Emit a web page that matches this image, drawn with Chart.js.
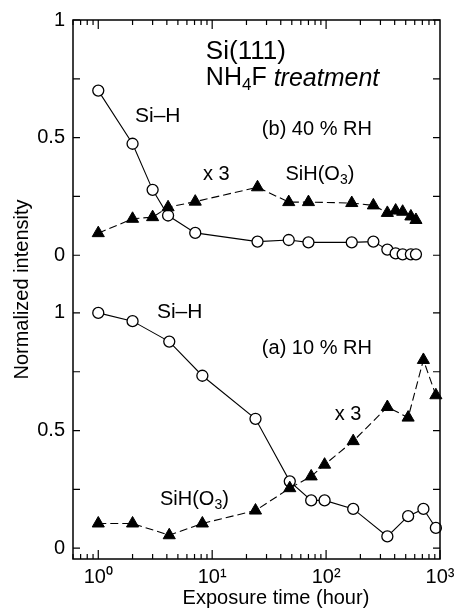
<!DOCTYPE html>
<html>
<head>
<meta charset="utf-8">
<script src="https://cdn.jsdelivr.net/npm/chart.js@4.4.0/dist/chart.umd.min.js"></script>
<style>
  html, body { margin: 0; padding: 0; background: #fff; }
  #wrap { width: 461px; height: 610px; }
</style>
</head>
<body>
<div id="wrap"><canvas id="myChart" width="461" height="610"></canvas></div>
<script>
// (b) 40 % RH - upper panel
const timesB  = [1, 2, 3, 4.1, 7.1, 25, 47, 70, 168, 260, 345, 408, 470, 555, 615];
const siHB    = [0.70, 0.474, 0.278, 0.169, 0.095, 0.058, 0.065, 0.055, 0.055, 0.058, 0.024, 0.008, 0.004, 0.004, 0.004];
const siHO3B  = [0.094, 0.155, 0.162, 0.204, 0.228, 0.289, 0.226, 0.226, 0.222, 0.212, 0.18, 0.19, 0.185, 0.165, 0.15];

// (a) 10 % RH - lower panel
const timesA  = [1, 2, 4.2, 8.2, 24, 48, 74, 97, 173, 345, 525, 715, 920];
const siHA    = [1.0, 0.965, 0.878, 0.733, 0.55, 0.284, 0.203, 0.203, 0.167, 0.05, 0.136, 0.167, 0.086];
const siHO3A  = [0.105, 0.105, 0.055, 0.105, 0.16, 0.255, 0.305, 0.355, 0.455, 0.60, 0.555, 0.80, 0.65];

// axis ticks
const xTicks      = [1, 10, 100, 1000];
const xTickLabels = ['10\u2070', '10\u00b9', '10\u00b2', '10\u00b3'];
const yTicks      = [0, 0.5, 1];
const yTickLabels = ['0', '0.5', '1'];

// both panels share one y axis, the upper one is shifted up
const panelOffset = 1.245;
const FONT = "'Liberation Sans', Arial, Helvetica, sans-serif";

const yAllTicks  = yTicks.concat(yTicks.map(v => v + panelOffset));
const yAllLabels = yTickLabels.concat(yTickLabels);

function pts(times, vals, off) {
  return times.map((t, i) => ({ x: t, y: vals[i] + off }));
}

// text labels inside the plot (positions in data units)
// part = [text, subscript?, italic?]
const notes = [
  { parts: [['Si(111)']], x: 8.8, y: 2.11, size: 26 },
  { parts: [['NH'], ['4', true], ['F '], ['treatment', false, true]], x: 8.8, y: 1.996, size: 25 },
  { parts: [['(b) 40 % RH']], x: 27.3, y: 1.78, size: 20 },
  { parts: [['Si\u2013H']], x: 2.1, y: 1.835, size: 21 },
  { parts: [['x 3']], x: 8.3, y: 1.59, size: 20 },
  { parts: [['SiH(O'], ['3', true], [')']], x: 44, y: 1.59, size: 20 },
  { parts: [['Si\u2013H']], x: 3.27, y: 1.004, size: 21 },
  { parts: [['(a) 10 % RH']], x: 27.3, y: 0.848, size: 20 },
  { parts: [['x 3']], x: 119, y: 0.57, size: 20 },
  { parts: [['SiH(O'], ['3', true], [')']], x: 3.48, y: 0.207, size: 20 }
];

// frame, inward ticks and the text labels
const framePlugin = {
  id: 'frame',
  afterDraw(chart) {
    const ctx = chart.ctx;
    const a = chart.chartArea;
    const xs = chart.scales.x, ys = chart.scales.y;
    ctx.save();
    ctx.strokeStyle = '#000';
    ctx.lineWidth = 1.5;
    ctx.strokeRect(a.left, a.top, a.right - a.left, a.bottom - a.top);

    ctx.lineWidth = 1.2;
    ctx.beginPath();
    [0, panelOffset].forEach(off => {
      [0, 0.25, 0.5, 0.75, 1].forEach(v => {
        const py = ys.getPixelForValue(v + off);
        ctx.moveTo(a.left, py); ctx.lineTo(a.left + 7, py);
        ctx.moveTo(a.right, py); ctx.lineTo(a.right - 7, py);
      });
    });
    [0.1, 1, 10, 100].forEach(d => {
      for (let m = 1; m <= 9; m++) {
        const v = d * m;
        if (v < xs.min || v > xs.max) continue;
        const px = xs.getPixelForValue(v);
        const len = m === 1 ? 9 : 5;
        ctx.moveTo(px, a.bottom); ctx.lineTo(px, a.bottom - len);
        ctx.moveTo(px, a.top); ctx.lineTo(px, a.top + len);
      }
    });
    const px3 = xs.getPixelForValue(1000);
    ctx.moveTo(px3, a.bottom); ctx.lineTo(px3, a.bottom - 9);
    ctx.stroke();

    ctx.fillStyle = '#000';
    ctx.textAlign = 'left';
    ctx.textBaseline = 'middle';
    notes.forEach(n => {
      let px = xs.getPixelForValue(n.x);
      const py = ys.getPixelForValue(n.y);
      n.parts.forEach(p => {
        const sub = p[1] === true;
        const size = sub ? Math.round(n.size * 0.68) : n.size;
        ctx.font = (p[2] ? 'italic ' : '') + size + 'px ' + FONT;
        ctx.fillText(p[0], px, py + (sub ? n.size * 0.28 : 0));
        px += ctx.measureText(p[0]).width;
      });
    });
    ctx.restore();
  }
};

const ctx = document.getElementById('myChart').getContext('2d');
new Chart(ctx, {
  type: 'line',
  data: {
    datasets: [
      {
        label: 'SiH(O3) 40 % RH',
        data: pts(timesB, siHO3B, panelOffset),
        borderColor: '#000', borderWidth: 1.1, borderDash: [8, 4],
        pointStyle: 'triangle', pointRadius: 7, pointBackgroundColor: '#000',
        pointBorderColor: '#000', pointBorderWidth: 1, clip: false
      },
      {
        label: 'SiH(O3) 10 % RH',
        data: pts(timesA, siHO3A, 0),
        borderColor: '#000', borderWidth: 1.1, borderDash: [8, 4],
        pointStyle: 'triangle', pointRadius: 7, pointBackgroundColor: '#000',
        pointBorderColor: '#000', pointBorderWidth: 1, clip: false
      },
      {
        label: 'Si-H 40 % RH',
        data: pts(timesB, siHB, panelOffset),
        borderColor: '#000', borderWidth: 1.1,
        pointStyle: 'circle', pointRadius: 5.5, pointBackgroundColor: '#fff',
        pointBorderColor: '#000', pointBorderWidth: 1.3, clip: false
      },
      {
        label: 'Si-H 10 % RH',
        data: pts(timesA, siHA, 0),
        borderColor: '#000', borderWidth: 1.1,
        pointStyle: 'circle', pointRadius: 5.5, pointBackgroundColor: '#fff',
        pointBorderColor: '#000', pointBorderWidth: 1.3, clip: false
      }
    ]
  },
  options: {
    responsive: false,
    animation: false,
    layout: { padding: { top: 18, right: 21, left: 0, bottom: 0 } },
    plugins: { legend: { display: false }, tooltip: { enabled: false } },
    scales: {
      x: {
        type: 'logarithmic',
        min: 0.6,
        max: 1000,
        afterBuildTicks: s => { s.ticks = xTicks.map(v => ({ value: v })); },
        afterFit: s => { s.height = 51; },
        grid: { display: false, drawTicks: false },
        border: { display: false },
        ticks: {
          color: '#000', padding: 6, maxRotation: 0, autoSkip: false,
          font: { family: FONT, size: 20 },
          callback: v => xTickLabels[xTicks.indexOf(v)]
        },
        title: {
          display: true, text: '       Exposure time (hour)', color: '#000',
          font: { family: FONT, size: 20 }, padding: { top: 0, bottom: 0 }
        }
      },
      y: {
        type: 'linear',
        min: -0.046,
        max: 2.245,
        afterBuildTicks: s => { s.ticks = yAllTicks.map(v => ({ value: v })); },
        afterFit: s => { s.width = 73; },
        grid: { display: false, drawTicks: false },
        border: { display: false },
        ticks: {
          color: '#000', padding: 8, autoSkip: false,
          font: { family: FONT, size: 20 },
          callback: (v, i) => yAllLabels[i]
        },
        title: {
          display: true, text: 'Normalized intensity', color: '#000',
          font: { family: FONT, size: 20 }, padding: { top: 10, bottom: 0 }
        }
      }
    }
  },
  plugins: [framePlugin]
});
</script>
</body>
</html>
